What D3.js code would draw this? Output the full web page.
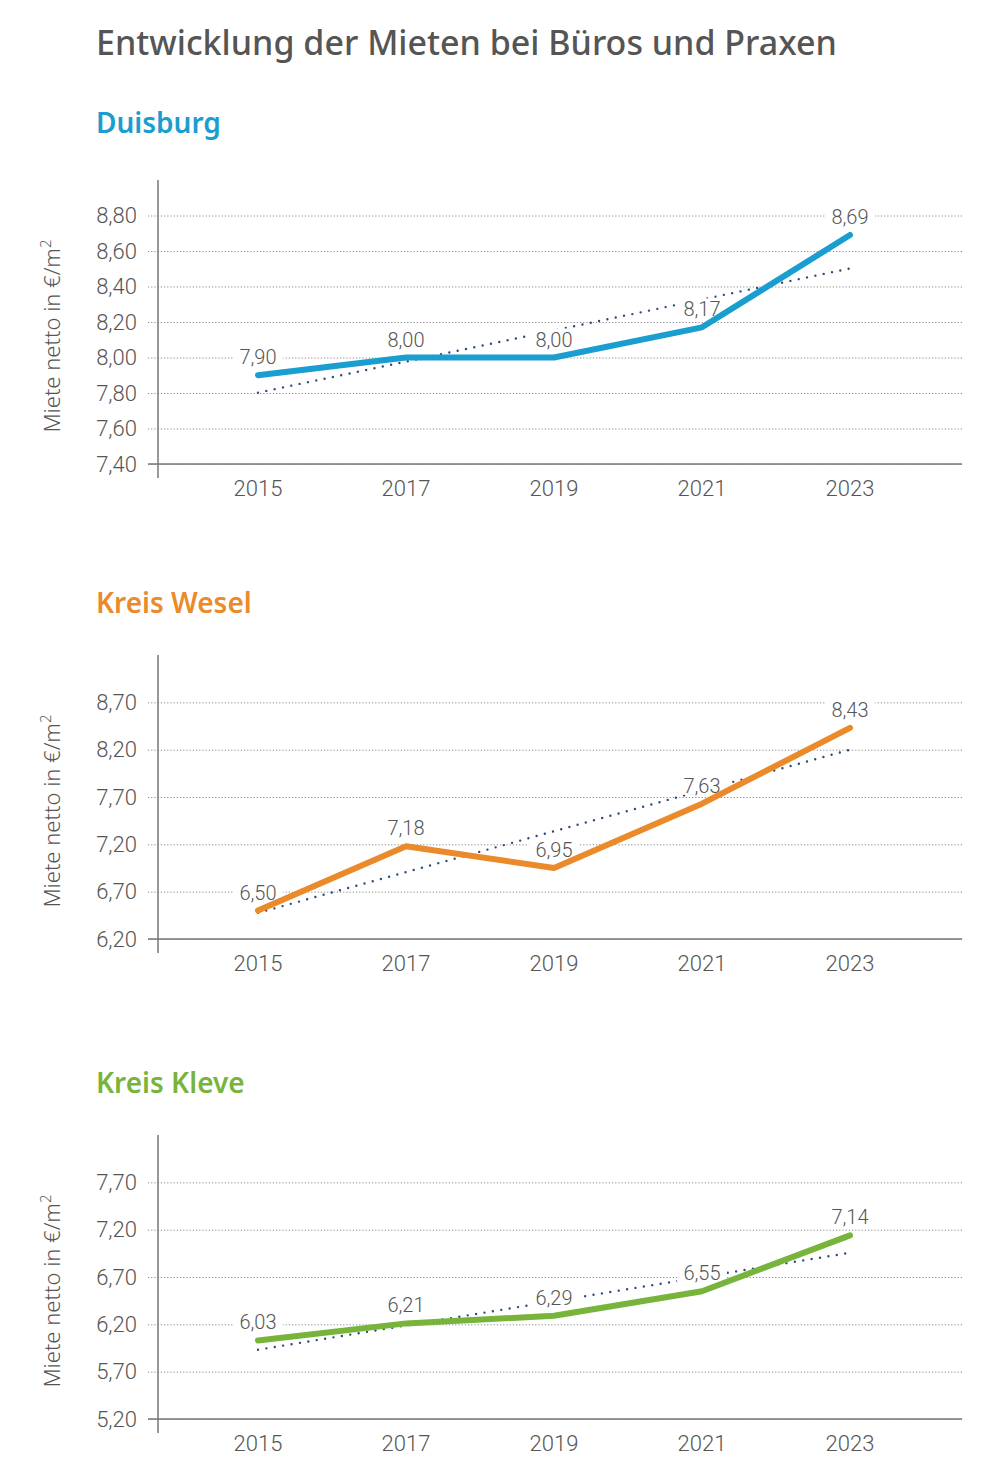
<!DOCTYPE html>
<html>
<head>
<meta charset="utf-8">
<script src="https://cdn.jsdelivr.net/npm/d3@7"></script>
<style>
  body { margin: 0; background: #fff; }
  svg { display: block; }
</style>
</head>
<body>
<script>
const width = 1000;
const height = 1483;

// data
const years = [2015, 2017, 2019, 2021, 2023];
const duisburg = [7.90, 8.00, 8.00, 8.17, 8.69];
const wesel = [6.50, 7.18, 6.95, 7.63, 8.43];
const kleve = [6.03, 6.21, 6.29, 6.55, 7.14];

const duisburgTicks = [7.40, 7.60, 7.80, 8.00, 8.20, 8.40, 8.60, 8.80];
const weselTicks = [6.20, 6.70, 7.20, 7.70, 8.20, 8.70];
const kleveTicks = [5.20, 5.70, 6.20, 6.70, 7.20, 7.70];

const panels = [
    {name: "Duisburg", values: duisburg, ticks: duisburgTicks, domain: [7.4, 9.0], color: "#1a9dcf", top: 180, titleY: 133},
    {name: "Kreis Wesel", values: wesel, ticks: weselTicks, domain: [6.2, 9.2], color: "#ea8a2b", top: 655, titleY: 613},
    {name: "Kreis Kleve", values: kleve, ticks: kleveTicks, domain: [5.2, 8.2], color: "#78b43b", top: 1135, titleY: 1093}
];

const de = d3.formatLocale({decimal: ",", thousands: ".", grouping: [3], currency: ["", " €"]});
const fmt = de.format(".2f");

const svg = d3.select("body").append("svg")
    .attr("width", width)
    .attr("height", height);

svg.append("text")
    .attr("x", 96)
    .attr("y", 55)
    .attr("font-family", "Noto Sans")
    .attr("font-weight", 500)
    .attr("font-size", 34)
    .attr("fill", "#555")
    .text("Entwicklung der Mieten bei Büros und Praxen");

const axisX = 158, rightX = 962;
const x = d3.scaleLinear().domain([2015, 2023]).range([258, 850]);

// simple least squares trend
const trend = (vals) => {
    const mx = d3.mean(years), my = d3.mean(vals);
    const slope = d3.sum(years, (yr, i) => (yr - mx) * (vals[i] - my)) / d3.sum(years, yr => (yr - mx) * (yr - mx));
    return years.map(yr => my + slope * (yr - mx));
};

panels.forEach(p => {
    const bottom = p.top + 284;
    const y = d3.scaleLinear().domain(p.domain).range([bottom, p.top]);
    const g = svg.append("g");

    g.append("text")
        .attr("x", 96)
        .attr("y", p.titleY)
        .attr("font-family", "Noto Sans")
        .attr("font-weight", 600)
        .attr("font-size", 28)
        .attr("fill", p.color)
        .text(p.name);

    // y axis with dotted grid
    const yAxis = g.append("g")
        .attr("transform", `translate(${axisX},0)`)
        .call(d3.axisLeft(y).tickValues(p.ticks).tickFormat(fmt).tickSize(0).tickPadding(21));
    yAxis.select(".domain").remove();
    yAxis.selectAll(".tick line")
        .attr("x1", -10)
        .attr("x2", rightX - axisX)
        .attr("stroke", "#888")
        .attr("stroke-width", 1)
        .attr("stroke-dasharray", "1.2,2");
    yAxis.selectAll(".tick text")
        .attr("font-family", "Roboto")
        .attr("font-weight", 300)
        .attr("font-size", 22)
        .attr("fill", "#555");

    // baseline and vertical axis
    g.append("line")
        .attr("x1", axisX - 10).attr("x2", rightX)
        .attr("y1", y(p.domain[0])).attr("y2", y(p.domain[0]))
        .attr("stroke", "#777").attr("stroke-width", 1.5);
    g.append("line")
        .attr("x1", axisX).attr("x2", axisX)
        .attr("y1", p.top).attr("y2", bottom + 14)
        .attr("stroke", "#777").attr("stroke-width", 1.5);

    // x labels
    g.selectAll(".xlab")
        .data(years)
        .join("text")
        .attr("x", d => x(d))
        .attr("y", bottom + 32)
        .attr("text-anchor", "middle")
        .attr("font-family", "Roboto")
        .attr("font-weight", 300)
        .attr("font-size", 22)
        .attr("fill", "#555")
        .text(d => d);

    // y title
    const t = g.append("text")
        .attr("transform", `translate(60,${p.top + 156}) rotate(-90)`)
        .attr("text-anchor", "middle")
        .attr("font-family", "Noto Sans")
        .attr("font-weight", 300)
        .attr("font-size", 22)
        .attr("fill", "#555");
    t.append("tspan").text("Miete netto in €/m");
    t.append("tspan").attr("dy", -9).attr("font-size", 15).text("2");

    // trend line
    const tv = trend(p.values);
    g.append("path")
        .datum(years.map((yr, i) => [yr, tv[i]]))
        .attr("d", d3.line().x(d => x(d[0])).y(d => y(d[1])))
        .attr("fill", "none")
        .attr("stroke", "#2d4a78")
        .attr("stroke-width", 2.4)
        .attr("stroke-linecap", "round")
        .attr("stroke-dasharray", "0,8.5");

    // value labels with white background
    const labs = g.selectAll(".vlab")
        .data(years.map((yr, i) => [yr, p.values[i]]))
        .join("g")
        .attr("transform", d => `translate(${x(d[0])},${y(d[1]) - 11})`);
    labs.append("rect")
        .attr("x", -25).attr("y", -18)
        .attr("width", 50).attr("height", 20)
        .attr("fill", "#fff");
    labs.append("text")
        .attr("text-anchor", "middle")
        .attr("font-family", "Roboto")
        .attr("font-weight", 300)
        .attr("font-size", 20)
        .attr("fill", "#555")
        .text(d => fmt(d[1]));

    // main line
    g.append("path")
        .datum(years.map((yr, i) => [yr, p.values[i]]))
        .attr("d", d3.line().x(d => x(d[0])).y(d => y(d[1])))
        .attr("fill", "none")
        .attr("stroke", p.color)
        .attr("stroke-width", 6)
        .attr("stroke-linecap", "round")
        .attr("stroke-linejoin", "round");
});
</script>
</body>
</html>
